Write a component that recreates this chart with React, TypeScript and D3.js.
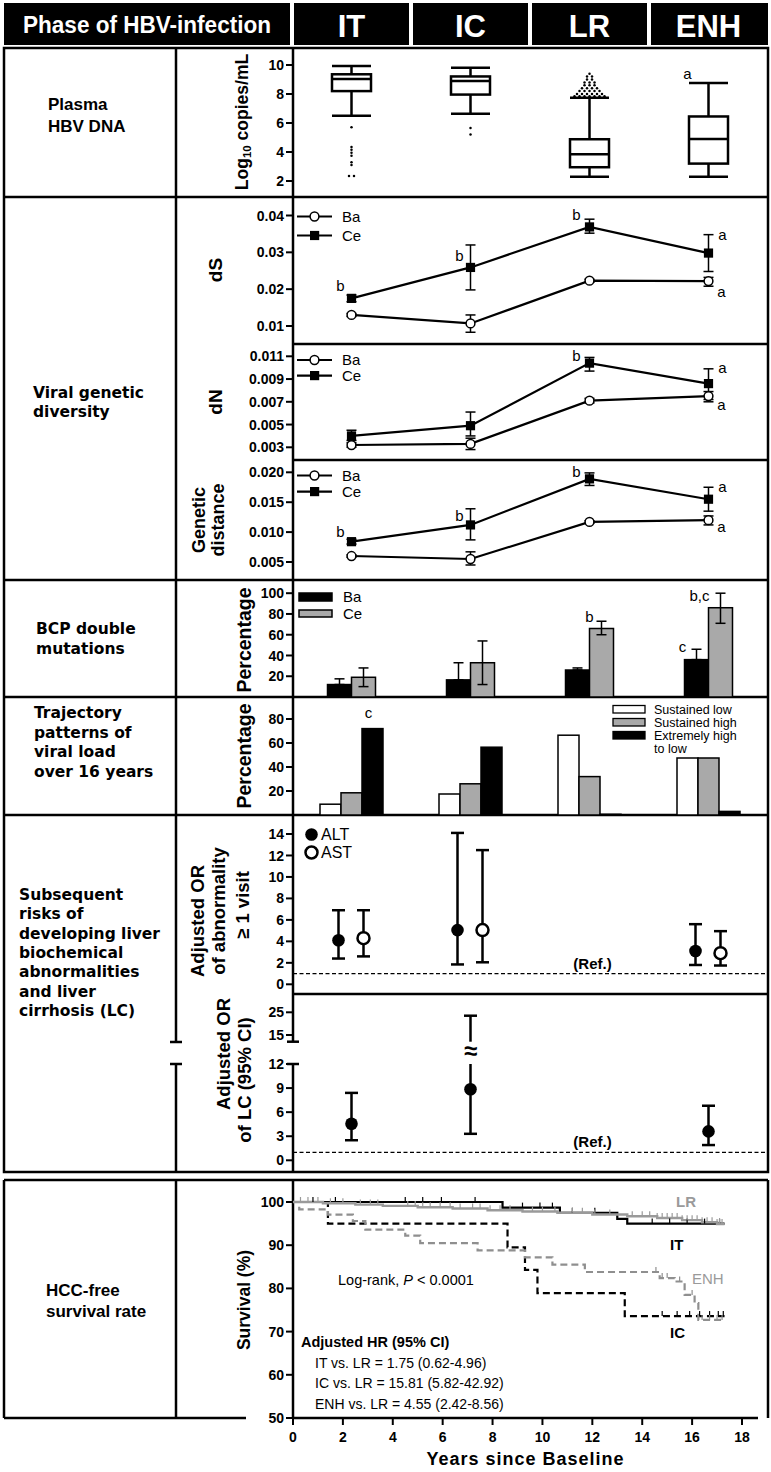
import React from 'react';
import * as d3 from 'd3';

const FONT = "'Liberation Sans', Arial, Helvetica, sans-serif";
const LFONT = "'DejaVu Sans', Verdana, sans-serif";

// ---------------- data ----------------
const phases = ['IT', 'IC', 'LR', 'ENH'];
const headerTitle = 'Phase of HBV-infection';

const rowLabelDNA = ['Plasma', 'HBV DNA'];
const rowLabelDiv = ['Viral genetic', 'diversity'];
const rowLabelBCP = ['BCP double', 'mutations'];
const rowLabelTraj = ['Trajectory', 'patterns of', 'viral load', 'over 16 years'];
const rowLabelRisk = ['Subsequent', 'risks of', 'developing liver', 'biochemical', 'abnormalities', 'and liver', 'cirrhosis (LC)'];
const rowLabelHCC = ['HCC-free', 'survival rate'];

// Plasma HBV DNA (log10 copies/mL)
const dnaTicks = [2, 4, 6, 8, 10];
const dnaWhiskerLow = [6.5, 6.64, 2.3, 2.3];
const dnaQ1 = [8.2, 7.96, 2.95, 3.2];
const dnaMedian = [9.03, 8.89, 3.85, 4.9];
const dnaQ3 = [9.36, 9.21, 4.88, 6.45];
const dnaWhiskerHigh = [9.93, 9.81, 7.75, 8.76];
const dnaOutliersIT = [5.7, 4.35, 4.15, 3.95, 3.75, 3.3, 3.1, 2.35, 2.35];
const dnaOutliersIC = [5.65, 5.2];
const dnaOutliersLR = [9.4, 9.2, 9.2, 9.0, 9.0, 8.8, 8.8, 8.8, 8.6, 8.6, 8.6, 8.4, 8.4, 8.4, 8.4,
  8.2, 8.2, 8.2, 8.2, 8.2, 8.0, 8.0, 8.0, 8.0, 8.0, 8.0, 7.85, 7.85, 7.85, 7.85, 7.85, 7.85, 7.85];
const dnaOutliersENH: number[] = [];
const dnaNotes = ['', '', '', 'a'];

// dS
const dsTicks = [0.01, 0.02, 0.03, 0.04];
const dsBa = [0.0130, 0.0107, 0.0223, 0.0222];
const dsBaLo = [0.0126, 0.0083, 0.0219, 0.0208];
const dsBaHi = [0.0134, 0.0130, 0.0227, 0.0232];
const dsCe = [0.0175, 0.0259, 0.0369, 0.0298];
const dsCeLo = [0.0166, 0.0198, 0.0352, 0.0248];
const dsCeHi = [0.0184, 0.0320, 0.0390, 0.0348];

// dN
const dnTicks = [0.003, 0.005, 0.007, 0.009, 0.011];
const dnBa = [0.0032, 0.0033, 0.0071, 0.0075];
const dnBaLo = [0.0030, 0.0028, 0.0069, 0.0070];
const dnBaHi = [0.0034, 0.0038, 0.0073, 0.0079];
const dnCe = [0.0040, 0.0049, 0.0104, 0.0086];
const dnCeLo = [0.0036, 0.0040, 0.0097, 0.0072];
const dnCeHi = [0.0045, 0.0061, 0.0109, 0.0099];

// Genetic distance
const gdTicks = [0.005, 0.010, 0.015, 0.020];
const gdBa = [0.0060, 0.0055, 0.0117, 0.0120];
const gdBaLo = [0.0058, 0.0045, 0.0115, 0.0112];
const gdBaHi = [0.0062, 0.0067, 0.0119, 0.0127];
const gdCe = [0.0084, 0.0112, 0.0189, 0.0155];
const gdCeLo = [0.0080, 0.0087, 0.0178, 0.0135];
const gdCeHi = [0.0088, 0.0139, 0.0199, 0.0175];

const seriesNames = ['Ba', 'Ce'];

// BCP double mutations (%)
const bcpTicks = [20, 40, 60, 80, 100];
const bcpBa = [12, 16.5, 26, 36];
const bcpBaHi = [17.5, 33, 28, 46];
const bcpCe = [19, 33, 66, 86];
const bcpCeLo = [10, 12, 60, 71];
const bcpCeHi = [28, 54, 73, 100];

// Trajectory patterns (%)
const trajTicks = [20, 40, 60, 80];
const trajNames = ['Sustained low', 'Sustained high', 'Extremely high', 'to low'];
const trajLow = [9, 17.5, 66.5, 47.5];
const trajHigh = [18.5, 26, 32, 47.5];
const trajExtreme = [72, 56.5, 0.6, 3];

// Adjusted OR of abnormality >= 1 visit
const orTicks = [0, 2, 4, 6, 8, 10, 12, 14];
const orPhases = ['IT', 'IC', 'ENH'];
const orAlt = [4.1, 5.05, 3.1];
const orAltLo = [2.4, 1.85, 1.8];
const orAltHi = [6.9, 14.1, 5.6];
const orAst = [4.3, 5.05, 2.9];
const orAstLo = [2.6, 2.05, 1.75];
const orAstHi = [6.9, 12.5, 4.95];
const orNames = ['ALT', 'AST'];

// Adjusted OR of LC (95% CI)
const lcTicksLow = [0, 3, 6, 9, 12];
const lcTicksHigh = [15, 25];
const lcOr = [4.55, 8.85, 3.6];
const lcLo = [2.5, 3.3, 1.9];
const lcHi = [8.4, 23.5, 6.8];

// HCC-free survival (Kaplan-Meier)
const survTicksX = [0, 2, 4, 6, 8, 10, 12, 14, 16, 18];
const survTicksY = [50, 60, 70, 80, 90, 100];
const survEnd = 17.3;
const survITt = [0, 8.4, 10.7, 13.0, 13.4];
const survITs = [100, 98.7, 97.5, 96.1, 95.0];
const survLRt = [0, 1.2, 2.5, 3.6, 5.0, 6.4, 7.8, 9.2, 10.6, 12.0, 13.4, 14.6, 15.6, 16.4, 17.0];
const survLRs = [100, 99.7, 99.4, 99.1, 98.8, 98.5, 98.1, 97.8, 97.5, 97.1, 96.7, 96.3, 95.8, 95.3, 94.9];
const survICt = [0, 1.4, 8.6, 9.3, 9.8, 13.3];
const survICs = [100, 95.0, 89.5, 84.3, 78.9, 73.6];
const survENHt = [0, 0.25, 1.4, 2.4, 2.9, 4.5, 5.1, 7.4, 9.3, 10.4, 11.7, 14.7, 15.3, 15.7, 16.1, 16.25];
const survENHs = [100, 98.3, 97.1, 95.6, 93.6, 92.2, 90.5, 88.8, 87.2, 85.5, 83.8, 82.4, 81.6, 78.5, 76.6, 72.7];
const censorIT = [0.8, 1.7, 4.5, 5.2, 5.95, 7.3, 9.2, 9.9, 10.4, 11.2, 12.1, 14.4, 15.1, 15.8, 16.5, 17.1];
const censorLR = [0.3, 0.6, 1.0, 1.5, 2.0, 2.7, 3.1, 3.4, 4.6, 4.9, 5.2, 5.5, 5.9, 6.3, 6.7, 7.2, 7.5, 7.9, 8.3,
  8.7, 9.6, 10.0, 10.5, 11.2, 11.6, 12.1, 12.7, 13.6, 14.0, 14.3, 14.6, 14.8, 15.0, 15.2, 15.4, 15.6,
  15.8, 16.0, 16.2, 16.4, 16.6, 16.8, 17.0, 17.1, 17.2];
const censorIC = [14.8, 15.4, 15.9, 16.3, 16.7, 17.05, 17.25];
const censorENH = [14.55, 14.8, 15.0, 15.5, 16.0, 16.4, 16.7, 17.0, 17.2];
const logRankText = ['Log-rank, ', 'P', ' < 0.0001'];
const hrTitle = 'Adjusted HR (95% CI)';
const hrLines = ['IT vs. LR = 1.75 (0.62-4.96)', 'IC vs. LR = 15.81 (5.82-42.92)', 'ENH vs. LR = 4.55 (2.42-8.56)'];

// ---------------- helpers ----------------
const AX = 293;
const RIGHT = 768;
const LEFT = 4;
const COL = 176;
const LW = 2.5;

function YTicks({ scale, ticks, fmt, size = 14 }: { scale: (v: number) => number; ticks: number[]; fmt: (v: number) => string; size?: number }) {
  return (
    <g>
      {ticks.map((t) => (
        <g key={t}>
          <line x1={AX - 7} x2={AX} y1={scale(t)} y2={scale(t)} stroke="#000" strokeWidth={2} />
          <text x={AX - 9} y={scale(t)} dy="0.36em" textAnchor="end" fontFamily={FONT} fontWeight="bold" fontSize={size}>
            {fmt(t)}
          </text>
        </g>
      ))}
    </g>
  );
}

function VText({ x, y, size = 18, children, fill = '#000' }: { x: number; y: number; size?: number; children: React.ReactNode; fill?: string }) {
  return (
    <text transform={`translate(${x},${y}) rotate(-90)`} textAnchor="middle" fontFamily={FONT} fontWeight="bold" fontSize={size} fill={fill}>
      {children}
    </text>
  );
}

function RowLabel({ lines, x, y, lh = 19.5, size = 15.5, font = LFONT }: { lines: string[]; x: number; y: number; lh?: number; size?: number; font?: string }) {
  return (
    <text fontFamily={font} fontWeight="bold" fontSize={size}>
      {lines.map((l, i) => (
        <tspan key={i} x={x} y={y + i * lh}>
          {l}
        </tspan>
      ))}
    </text>
  );
}

function ErrBar({ x, y1, y2, w, sw }: { x: number; y1: number; y2: number; w: number; sw: number }) {
  return (
    <g stroke="#000" strokeWidth={sw}>
      <line x1={x} x2={x} y1={y1} y2={y2} />
      <line x1={x - w / 2} x2={x + w / 2} y1={y1} y2={y1} />
      <line x1={x - w / 2} x2={x + w / 2} y1={y2} y2={y2} />
    </g>
  );
}

type Note = { i: number; s: 'ba' | 'ce'; t: string; dx: number; dy: number };

function LinePanel(p: {
  y: d3.ScaleLinear<number, number>;
  ticks: number[];
  fmt: (v: number) => string;
  ba: number[]; baLo: number[]; baHi: number[];
  ce: number[]; ceLo: number[]; ceHi: number[];
  legendY: [number, number];
  notes: Note[];
  cx: (i: number) => number;
}) {
  const { y, cx } = p;
  const line = d3.line<number>().x((_, i) => cx(i)).y((v) => y(v));
  return (
    <g>
      <YTicks scale={y} ticks={p.ticks} fmt={p.fmt} />
      {p.ce.map((_, i) => (
        <ErrBar key={'ec' + i} x={cx(i)} y1={y(p.ceHi[i])} y2={y(p.ceLo[i])} w={10} sw={1.5} />
      ))}
      {p.ba.map((_, i) => (
        <ErrBar key={'eb' + i} x={cx(i)} y1={y(p.baHi[i])} y2={y(p.baLo[i])} w={10} sw={1.5} />
      ))}
      <path d={line(p.ce) || ''} fill="none" stroke="#000" strokeWidth={2.2} />
      <path d={line(p.ba) || ''} fill="none" stroke="#000" strokeWidth={2.2} />
      {p.ce.map((v, i) => (
        <rect key={'c' + i} x={cx(i) - 4.6} y={y(v) - 4.6} width={9.2} height={9.2} fill="#000" />
      ))}
      {p.ba.map((v, i) => (
        <circle key={'b' + i} cx={cx(i)} cy={y(v)} r={4.4} fill="#fff" stroke="#000" strokeWidth={1.5} />
      ))}
      {p.notes.map((n, k) => {
        const v = n.s === 'ce' ? p.ce[n.i] : p.ba[n.i];
        return (
          <text key={'n' + k} x={cx(n.i) + n.dx} y={y(v) + n.dy + 5} textAnchor="middle" fontFamily={FONT} fontSize={15}>
            {n.t}
          </text>
        );
      })}
      {/* legend */}
      <g>
        <line x1={297} x2={332} y1={p.legendY[0]} y2={p.legendY[0]} stroke="#000" strokeWidth={2.2} />
        <circle cx={314.5} cy={p.legendY[0]} r={4.4} fill="#fff" stroke="#000" strokeWidth={1.5} />
        <text x={342} y={p.legendY[0] + 5} fontFamily={FONT} fontSize={15}>{seriesNames[0]}</text>
        <line x1={297} x2={332} y1={p.legendY[1]} y2={p.legendY[1]} stroke="#000" strokeWidth={2.2} />
        <rect x={310} y={p.legendY[1] - 4.6} width={9.2} height={9.2} fill="#000" />
        <text x={342} y={p.legendY[1] + 5} fontFamily={FONT} fontSize={15}>{seriesNames[1]}</text>
      </g>
    </g>
  );
}

function spread(values: number[], step: number) {
  const groups = d3.group(values, (v) => Math.round(v * 100));
  const out: { v: number; off: number }[] = [];
  groups.forEach((arr) => arr.forEach((v, k) => out.push({ v, off: (k - (arr.length - 1) / 2) * step })));
  return out;
}

function stepAt(ts: number[], ss: number[], t: number) {
  let idx = 0;
  for (let i = 0; i < ts.length; i++) if (ts[i] <= t) idx = i;
  return ss[idx];
}

export default function App() {
  const xb = d3.scaleBand<string>().domain(phases).range([292, RIGHT]);
  const cx = (i: number) => (xb(phases[i]) as number) + xb.bandwidth() / 2;
  const cxP = (ph: string) => (xb(ph) as number) + xb.bandwidth() / 2;

  // scales
  const yDna = d3.scaleLinear().domain([2, 10]).range([181, 65]);
  const yDs = d3.scaleLinear().domain([0.01, 0.04]).range([326, 215.5]);
  const yDn = d3.scaleLinear().domain([0.003, 0.011]).range([447.3, 356.3]);
  const yGd = d3.scaleLinear().domain([0.005, 0.02]).range([562, 472.3]);
  const yBcp = d3.scaleLinear().domain([0, 100]).range([697, 593.2]);
  const yTraj = d3.scaleLinear().domain([0, 80]).range([815, 719]);
  const yOr = d3.scaleLinear().domain([0, 14]).range([984.3, 834]);
  const yLcLow = d3.scaleLinear().domain([0, 12]).range([1160.3, 1064]);
  const yLcHigh = d3.scaleLinear().domain([15, 25]).range([1035, 1012.3]);
  const xS = d3.scaleLinear().domain([0, 18]).range([AX, 742]);
  const yS = d3.scaleLinear().domain([50, 100]).range([1418, 1202]);

  const outliers = [dnaOutliersIT, dnaOutliersIC, dnaOutliersLR, dnaOutliersENH];

  const f3 = (v: number) => v.toFixed(3);
  const f2 = (v: number) => v.toFixed(2);
  const fInt = (v: number) => String(v);

  const boxW = 39;

  const survLine = d3.line<[number, number]>().x((d) => xS(d[0])).y((d) => yS(d[1])).curve(d3.curveStepAfter);
  const mk = (ts: number[], ss: number[]): [number, number][] => [...ts.map((t, i) => [t, ss[i]] as [number, number]), [survEnd, ss[ss.length - 1]]];

  const bw = 24; // bcp bar width
  const tw = 21; // trajectory bar width

  return (
    <svg width={771} height={1472} style={{ position: 'absolute', left: 0, top: 0, background: '#fff' }}>
      <rect width={771} height={1472} fill="#fff" />

      {/* ---------- header ---------- */}
      <rect x={LEFT} y={3} width={290 - LEFT} height={42} fill="#000" />
      <text x={(LEFT + 290) / 2} y={33} textAnchor="middle" fill="#fff" fontFamily={FONT} fontWeight="bold" fontSize={23} textLength={248} lengthAdjust="spacingAndGlyphs">
        {headerTitle}
      </text>
      {phases.map((ph, i) => {
        const x0 = xb(ph) as number;
        const x1 = x0 + xb.bandwidth();
        return (
          <g key={ph}>
            <rect x={x0 + 2} y={3} width={Math.min(x1, RIGHT) - x0 - (i === 3 ? 2 : 4)} height={42} fill="#000" />
            <text x={cx(i)} y={37} textAnchor="middle" fill="#fff" fontFamily={FONT} fontWeight="bold" fontSize={31}>
              {ph}
            </text>
          </g>
        );
      })}

      {/* ---------- table frame ---------- */}
      <g stroke="#000" strokeWidth={LW} fill="none">
        <rect x={LEFT} y={48} width={RIGHT - LEFT} height={1172 - 48} />
        {[197, 580, 697, 815].map((yy) => (
          <line key={yy} x1={LEFT} x2={RIGHT} y1={yy} y2={yy} />
        ))}
        {[344, 460, 994].map((yy) => (
          <line key={yy} x1={AX} x2={RIGHT} y1={yy} y2={yy} />
        ))}
        <line x1={COL} x2={COL} y1={48} y2={1042} />
        <line x1={COL} x2={COL} y1={1064} y2={1172} />
        <line x1={COL - 6} x2={COL + 6} y1={1042} y2={1042} />
        <line x1={COL - 6} x2={COL + 6} y1={1064} y2={1064} />
        <line x1={AX} x2={AX} y1={48} y2={1041.7} />
        <line x1={AX} x2={AX} y1={1064} y2={1172} />
        <line x1={AX - 6} x2={AX + 6} y1={1041.7} y2={1041.7} />
        <line x1={AX - 6} x2={AX + 6} y1={1064} y2={1064} />
        {/* survival box */}
        <line x1={LEFT} x2={RIGHT} y1={1180} y2={1180} />
        <line x1={LEFT} x2={LEFT} y1={1180} y2={1418} />
        <line x1={COL} x2={COL} y1={1180} y2={1418} />
        <line x1={RIGHT} x2={RIGHT} y1={1180} y2={1418} />
        <line x1={LEFT} x2={246} y1={1418} y2={1418} />
        <line x1={AX} x2={AX} y1={1180} y2={1418} />
        <line x1={AX} x2={758} y1={1418} y2={1418} />
      </g>

      {/* ---------- row labels ---------- */}
      <RowLabel lines={rowLabelDNA} x={48} y={110} lh={22} size={17} font={FONT} />
      <RowLabel lines={rowLabelDiv} x={33} y={398} lh={19} />
      <RowLabel lines={rowLabelBCP} x={36} y={634} lh={20} />
      <RowLabel lines={rowLabelTraj} x={34} y={718} lh={19.5} />
      <RowLabel lines={rowLabelRisk} x={19} y={900} lh={19.3} />
      <RowLabel lines={rowLabelHCC} x={46} y={1296} lh={21} size={17} font={FONT} />

      {/* ---------- Plasma HBV DNA ---------- */}
      <YTicks scale={yDna} ticks={dnaTicks} fmt={fInt} />
      <VText x={248} y={122} size={17.5}>
        Log<tspan fontSize={11.5} dy={3}>10</tspan>
        <tspan dy={-3}> copies/mL</tspan>
      </VText>
      {phases.map((ph, i) => {
        const c = cx(i);
        return (
          <g key={'box' + ph} stroke="#000" strokeWidth={2.5} fill="none">
            <line x1={c} x2={c} y1={yDna(dnaWhiskerHigh[i])} y2={yDna(dnaQ3[i])} />
            <line x1={c} x2={c} y1={yDna(dnaQ1[i])} y2={yDna(dnaWhiskerLow[i])} />
            <line x1={c - boxW / 2} x2={c + boxW / 2} y1={yDna(dnaWhiskerHigh[i])} y2={yDna(dnaWhiskerHigh[i])} />
            <line x1={c - boxW / 2} x2={c + boxW / 2} y1={yDna(dnaWhiskerLow[i])} y2={yDna(dnaWhiskerLow[i])} />
            <rect x={c - boxW / 2} y={yDna(dnaQ3[i])} width={boxW} height={yDna(dnaQ1[i]) - yDna(dnaQ3[i])} fill="#fff" />
            <line x1={c - boxW / 2} x2={c + boxW / 2} y1={yDna(dnaMedian[i])} y2={yDna(dnaMedian[i])} />
            {spread(outliers[i], 5).map((o, k) => (
              <circle key={k} cx={c + o.off} cy={yDna(o.v)} r={1.25} fill="#000" stroke="none" />
            ))}
            {dnaNotes[i] && (
              <text x={c - 21} y={yDna(dnaWhiskerHigh[i]) - 4} textAnchor="middle" fontFamily={FONT} fontSize={15} stroke="none" fill="#000">
                {dnaNotes[i]}
              </text>
            )}
          </g>
        );
      })}

      {/* ---------- dS / dN / genetic distance ---------- */}
      <VText x={222} y={270} size={19}>dS</VText>
      <LinePanel y={yDs} ticks={dsTicks} fmt={f2} ba={dsBa} baLo={dsBaLo} baHi={dsBaHi} ce={dsCe} ceLo={dsCeLo} ceHi={dsCeHi}
        legendY={[216.5, 235.5]} cx={cx}
        notes={[
          { i: 0, s: 'ce', t: 'b', dx: -11, dy: -12 },
          { i: 1, s: 'ce', t: 'b', dx: -11, dy: -11 },
          { i: 2, s: 'ce', t: 'b', dx: -13, dy: -12 },
          { i: 3, s: 'ce', t: 'a', dx: 14, dy: -18 },
          { i: 3, s: 'ba', t: 'a', dx: 13, dy: 11 },
        ]} />
      <VText x={222} y={402} size={19}>dN</VText>
      <LinePanel y={yDn} ticks={dnTicks} fmt={f3} ba={dnBa} baLo={dnBaLo} baHi={dnBaHi} ce={dnCe} ceLo={dnCeLo} ceHi={dnCeHi}
        legendY={[360, 375.6]} cx={cx}
        notes={[
          { i: 2, s: 'ce', t: 'b', dx: -13, dy: -7 },
          { i: 3, s: 'ce', t: 'a', dx: 14, dy: -16 },
          { i: 3, s: 'ba', t: 'a', dx: 13, dy: 9 },
        ]} />
      <VText x={205} y={520} size={18}>Genetic</VText>
      <VText x={224} y={520} size={18}>distance</VText>
      <LinePanel y={yGd} ticks={gdTicks} fmt={f3} ba={gdBa} baLo={gdBaLo} baHi={gdBaHi} ce={gdCe} ceLo={gdCeLo} ceHi={gdCeHi}
        legendY={[475.5, 491.6]} cx={cx}
        notes={[
          { i: 0, s: 'ce', t: 'b', dx: -11, dy: -10 },
          { i: 1, s: 'ce', t: 'b', dx: -11, dy: -9 },
          { i: 2, s: 'ce', t: 'b', dx: -13, dy: -7 },
          { i: 3, s: 'ce', t: 'a', dx: 14, dy: -12 },
          { i: 3, s: 'ba', t: 'a', dx: 13, dy: 7 },
        ]} />

      {/* ---------- BCP double mutations ---------- */}
      <YTicks scale={yBcp} ticks={bcpTicks} fmt={fInt} />
      <VText x={251} y={640} size={19.5}>Percentage</VText>
      {phases.map((ph, i) => {
        const c = cx(i);
        return (
          <g key={'bcp' + ph}>
            <ErrBar x={c - bw / 2} y1={yBcp(bcpBaHi[i])} y2={yBcp(bcpBa[i])} w={10} sw={1.5} />
            <rect x={c - bw} y={yBcp(bcpBa[i])} width={bw} height={yBcp(0) - yBcp(bcpBa[i])} fill="#000" stroke="#000" strokeWidth={1.5} />
            <ErrBar x={c + bw / 2} y1={yBcp(bcpCeHi[i])} y2={yBcp(bcpCeLo[i])} w={10} sw={1.5} />
            <rect x={c} y={yBcp(bcpCe[i])} width={bw} height={yBcp(0) - yBcp(bcpCe[i])} fill="#a9a9a9" stroke="#000" strokeWidth={1.5} />
            <line x1={c + bw / 2} x2={c + bw / 2} y1={yBcp(bcpCe[i])} y2={yBcp(bcpCeLo[i])} stroke="#000" strokeWidth={1.5} />
            <line x1={c + bw / 2 - 5} x2={c + bw / 2 + 5} y1={yBcp(bcpCeLo[i])} y2={yBcp(bcpCeLo[i])} stroke="#000" strokeWidth={1.5} />
          </g>
        );
      })}
      <text x={cx(2)} y={yBcp(bcpCeHi[2]) + 1} textAnchor="middle" fontFamily={FONT} fontSize={15}>b</text>
      <text x={cx(3) - 9} y={yBcp(bcpCeHi[3]) + 8} textAnchor="middle" fontFamily={FONT} fontSize={15}>b,c</text>
      <text x={cx(3) - 26} y={yBcp(bcpBaHi[3]) + 3} textAnchor="middle" fontFamily={FONT} fontSize={15}>c</text>
      <rect x={299} y={593} width={33} height={8} fill="#000" stroke="#000" strokeWidth={1.5} />
      <text x={343} y={602} fontFamily={FONT} fontSize={15}>{seriesNames[0]}</text>
      <rect x={299} y={610} width={33} height={7} fill="#a9a9a9" stroke="#000" strokeWidth={1.5} />
      <text x={343} y={619} fontFamily={FONT} fontSize={15}>{seriesNames[1]}</text>

      {/* ---------- Trajectory ---------- */}
      <YTicks scale={yTraj} ticks={trajTicks} fmt={fInt} />
      <VText x={251} y={756} size={19.5}>Percentage</VText>
      {phases.map((ph, i) => {
        const c = cx(i);
        const vals = [trajLow[i], trajHigh[i], trajExtreme[i]];
        const fills = ['#fff', '#a9a9a9', '#000'];
        return (
          <g key={'tr' + ph}>
            {vals.map((v, k) => (
              <rect key={k} x={c - 1.5 * tw + k * tw} y={yTraj(v)} width={tw} height={yTraj(0) - yTraj(v)} fill={fills[k]} stroke="#000" strokeWidth={1.5} />
            ))}
          </g>
        );
      })}
      <text x={cx(0) + 17} y={yTraj(trajExtreme[0]) - 11} textAnchor="middle" fontFamily={FONT} fontSize={15}>c</text>
      {[0, 1, 2].map((k) => (
        <rect key={'tl' + k} x={613} y={705.5 + k * 13} width={32} height={7.5} fill={['#fff', '#a9a9a9', '#000'][k]} stroke="#000" strokeWidth={1.3} />
      ))}
      {trajNames.map((n, k) => (
        <text key={'tn' + k} x={654} y={713.5 + k * 13} fontFamily={FONT} fontSize={12.5}>{n}</text>
      ))}

      {/* ---------- Adjusted OR abnormality ---------- */}
      <YTicks scale={yOr} ticks={orTicks} fmt={fInt} />
      <VText x={204} y={921} size={18.5}>Adjusted OR</VText>
      <VText x={225} y={911} size={18.5}>of abnormality</VText>
      <VText x={249} y={905} size={18.5}>≥ 1 visit</VText>
      <line x1={AX} x2={RIGHT} y1={yOr(1)} y2={yOr(1)} stroke="#000" strokeWidth={1.2} strokeDasharray="4,2.5" />
      <text x={cxP('LR') + 3} y={yOr(1) - 5} textAnchor="middle" fontFamily={FONT} fontWeight="bold" fontSize={15}>(Ref.)</text>
      {orPhases.map((ph, i) => {
        const c = cxP(ph);
        return (
          <g key={'or' + ph}>
            <ErrBar x={c - 13} y1={yOr(orAltHi[i])} y2={yOr(orAltLo[i])} w={13} sw={2.5} />
            <circle cx={c - 13} cy={yOr(orAlt[i])} r={6.3} fill="#000" />
            <ErrBar x={c + 12} y1={yOr(orAstHi[i])} y2={yOr(orAstLo[i])} w={13} sw={2.5} />
            <circle cx={c + 12} cy={yOr(orAst[i])} r={6} fill="#fff" stroke="#000" strokeWidth={2.5} />
          </g>
        );
      })}
      <circle cx={311.5} cy={834.5} r={6.3} fill="#000" />
      <text x={321} y={840} fontFamily={FONT} fontSize={16}>{orNames[0]}</text>
      <circle cx={311.5} cy={852.5} r={6} fill="#fff" stroke="#000" strokeWidth={2.5} />
      <text x={321} y={858} fontFamily={FONT} fontSize={16}>{orNames[1]}</text>

      {/* ---------- Adjusted OR of LC ---------- */}
      <YTicks scale={yLcLow} ticks={lcTicksLow} fmt={fInt} />
      <YTicks scale={yLcHigh} ticks={lcTicksHigh} fmt={fInt} />
      <VText x={230} y={1054} size={18.5}>Adjusted OR</VText>
      <VText x={251} y={1080} size={18.5}>of LC (95% CI)</VText>
      <line x1={AX} x2={RIGHT} y1={yLcLow(1)} y2={yLcLow(1)} stroke="#000" strokeWidth={1.2} strokeDasharray="4,2.5" />
      <text x={cxP('LR') + 3} y={yLcLow(1) - 5} textAnchor="middle" fontFamily={FONT} fontWeight="bold" fontSize={15}>(Ref.)</text>
      {orPhases.map((ph, i) => {
        const c = cxP(ph);
        const hi = lcHi[i];
        if (hi <= 12) {
          return (
            <g key={'lc' + ph}>
              <ErrBar x={c} y1={yLcLow(hi)} y2={yLcLow(lcLo[i])} w={13} sw={2.5} />
              <circle cx={c} cy={yLcLow(lcOr[i])} r={6.3} fill="#000" />
            </g>
          );
        }
        return (
          <g key={'lc' + ph} stroke="#000" strokeWidth={2.5}>
            <line x1={c} x2={c} y1={yLcLow(12)} y2={yLcLow(lcLo[i])} />
            <line x1={c - 6.5} x2={c + 6.5} y1={yLcLow(lcLo[i])} y2={yLcLow(lcLo[i])} />
            <line x1={c} x2={c} y1={1041.7} y2={yLcHigh(hi)} />
            <line x1={c - 6.5} x2={c + 6.5} y1={yLcHigh(hi)} y2={yLcHigh(hi)} />
            <circle cx={c} cy={yLcLow(lcOr[i])} r={6.3} fill="#000" stroke="none" />
            <text x={c} y={1059} textAnchor="middle" fontFamily={FONT} fontWeight="bold" fontSize={24} stroke="none" fill="#000">≈</text>
          </g>
        );
      })}

      {/* ---------- HCC-free survival ---------- */}
      <g>
        {survTicksY.map((t) => (
          <g key={'sy' + t}>
            <line x1={AX - 7} x2={AX} y1={yS(t)} y2={yS(t)} stroke="#000" strokeWidth={2} />
            <text x={AX - 9} y={yS(t)} dy="0.36em" textAnchor="end" fontFamily={FONT} fontWeight="bold" fontSize={14}>{t}</text>
          </g>
        ))}
        {survTicksX.map((t) => (
          <g key={'sx' + t}>
            <line x1={xS(t)} x2={xS(t)} y1={1418} y2={1425} stroke="#000" strokeWidth={2} />
            <text x={xS(t)} y={1442} textAnchor="middle" fontFamily={FONT} fontWeight="bold" fontSize={14}>{t}</text>
          </g>
        ))}
        <VText x={250} y={1300} size={17.5}>Survival (%)</VText>
        <text x={(AX + 758) / 2} y={1465} textAnchor="middle" fontFamily={FONT} fontWeight="bold" fontSize={18} letterSpacing={1}>Years since Baseline</text>

        <path d={survLine(mk(survICt, survICs)) || ''} fill="none" stroke="#000" strokeWidth={2.2} strokeDasharray="7,4" />
        <path d={survLine(mk(survENHt, survENHs)) || ''} fill="none" stroke="#8f8f8f" strokeWidth={2.2} strokeDasharray="7,4" />
        <path d={survLine(mk(survITt, survITs)) || ''} fill="none" stroke="#000" strokeWidth={2.2} />
        <path d={survLine(mk(survLRt, survLRs)) || ''} fill="none" stroke="#9a9a9a" strokeWidth={2.4} />
        {censorIT.map((t, k) => (
          <line key={'cit' + k} x1={xS(t)} x2={xS(t)} y1={yS(stepAt(survITt, survITs, t)) - 5} y2={yS(stepAt(survITt, survITs, t))} stroke="#000" strokeWidth={1.2} />
        ))}
        {censorIC.map((t, k) => (
          <line key={'cic' + k} x1={xS(t)} x2={xS(t)} y1={yS(stepAt(survICt, survICs, t)) - 5} y2={yS(stepAt(survICt, survICs, t))} stroke="#000" strokeWidth={1.2} />
        ))}
        {censorENH.map((t, k) => (
          <line key={'cen' + k} x1={xS(t)} x2={xS(t)} y1={yS(stepAt(survENHt, survENHs, t)) - 5} y2={yS(stepAt(survENHt, survENHs, t))} stroke="#8f8f8f" strokeWidth={1.2} />
        ))}
        {censorLR.map((t, k) => (
          <line key={'clr' + k} x1={xS(t)} x2={xS(t)} y1={yS(stepAt(survLRt, survLRs, t)) - 5} y2={yS(stepAt(survLRt, survLRs, t))} stroke="#9a9a9a" strokeWidth={1.2} />
        ))}
        <text x={676} y={1207} fontFamily={FONT} fontWeight="bold" fontSize={15} fill="#9a9a9a">LR</text>
        <text x={670} y={1250} fontFamily={FONT} fontWeight="bold" fontSize={15}>IT</text>
        <text x={692} y={1284} fontFamily={FONT} fontSize={15} fill="#9a9a9a">ENH</text>
        <text x={670} y={1338} fontFamily={FONT} fontWeight="bold" fontSize={15}>IC</text>
        <text x={338} y={1285} fontFamily={FONT} fontSize={14.5}>
          {logRankText[0]}
          <tspan fontStyle="italic">{logRankText[1]}</tspan>
          {logRankText[2]}
        </text>
        <text x={301} y={1347} fontFamily={FONT} fontWeight="bold" fontSize={14.5}>{hrTitle}</text>
        {hrLines.map((l, k) => (
          <text key={'hr' + k} x={315} y={1368 + k * 20.3} fontFamily={FONT} fontSize={14}>{l}</text>
        ))}
      </g>
    </svg>
  );
}
